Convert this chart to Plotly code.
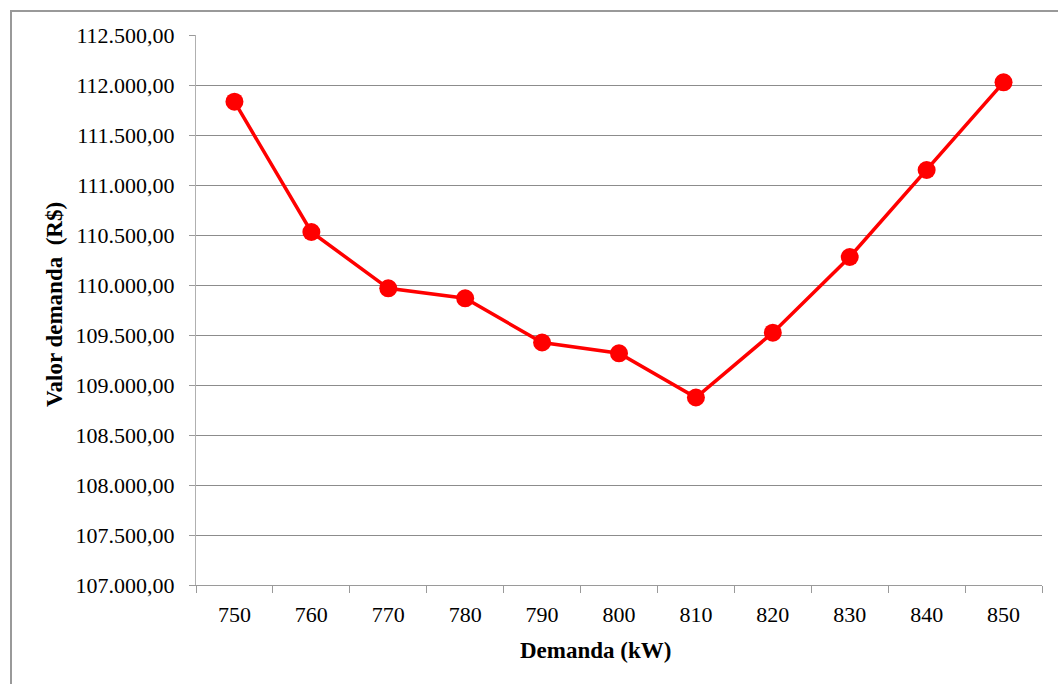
import plotly.graph_objects as go

# Demand contracted (kW) and corresponding annual demand cost (R$)
demanda_kw = ["750", "760", "770", "780", "790", "800", "810", "820", "830", "840", "850"]
valor_demanda = [111833, 110530, 109967, 109867, 109425, 109317, 108875, 109523, 110280, 111150, 112027]

y_min, y_max, y_step = 107000, 112500, 500

W, H = 1058, 684
L, R, T, B = 196, 16, 35, 99
plot_w = W - L - R
plot_h = H - T - B

serif = "Liberation Serif"
tick_family = "'Liberation Serif', 'Liberation Sans', sans-serif"

fig = go.Figure()
fig.add_trace(go.Scatter(
    x=demanda_kw,
    y=valor_demanda,
    mode="lines+markers",
    line=dict(color="#ff0000", width=3.5),
    marker=dict(color="#ff0000", size=18),
    showlegend=False,
))

fig.update_layout(
    width=W,
    height=H,
    margin=dict(l=L, r=R, t=T, b=B),
    paper_bgcolor="white",
    plot_bgcolor="white",
    separators=",.",
    font=dict(family=tick_family, color="black", size=22),
)

fig.update_xaxes(
    type="category",
    range=[-0.5, len(demanda_kw) - 0.5],
    tickson="boundaries",
    ticks="outside",
    ticklen=7,
    tickcolor="#9a9a9a",
    showline=True,
    linecolor="#9a9a9a",
    linewidth=1,
    showgrid=False,
    tickfont=dict(family=tick_family, size=22, color="black"),
    ticklabelstandoff=10,
)

fig.update_yaxes(
    range=[y_min, y_max],
    dtick=y_step,
    tick0=y_min,
    tickformat=",.2f",
    ticks="outside",
    ticklen=6,
    tickcolor="#9a9a9a",
    showline=True,
    linecolor="#b0b0b0",
    linewidth=1,
    showgrid=True,
    gridcolor="#8c8c8c",
    gridwidth=1,
    zeroline=False,
    tickfont=dict(family=tick_family, size=22, color="black"),
    ticklabelstandoff=10,
)

# Axis titles
fig.add_annotation(
    text="Demanda (kW)",
    xref="paper", yref="paper",
    x=(595 - L) / plot_w, y=(T + plot_h - 650) / plot_h,
    xanchor="center", yanchor="middle",
    showarrow=False,
    font=dict(family=serif, size=23, color="black", weight="bold"),
)
fig.add_annotation(
    text="Valor demanda  (R$)",
    xref="paper", yref="paper",
    x=(54 - L) / plot_w, y=(T + plot_h - 305) / plot_h,
    xanchor="center", yanchor="middle",
    textangle=-90,
    showarrow=False,
    font=dict(family=serif, size=23, color="black", weight="bold"),
)

# Chart-area frame
fig.add_shape(
    type="rect",
    xref="paper", yref="paper",
    x0=(11 - L) / plot_w, x1=(W + 20 - L) / plot_w,
    y0=(T + plot_h - (H + 20)) / plot_h, y1=(T + plot_h - 11) / plot_h,
    line=dict(color="#999999", width=2),
    layer="below",
)

fig.write_html("out.html")
